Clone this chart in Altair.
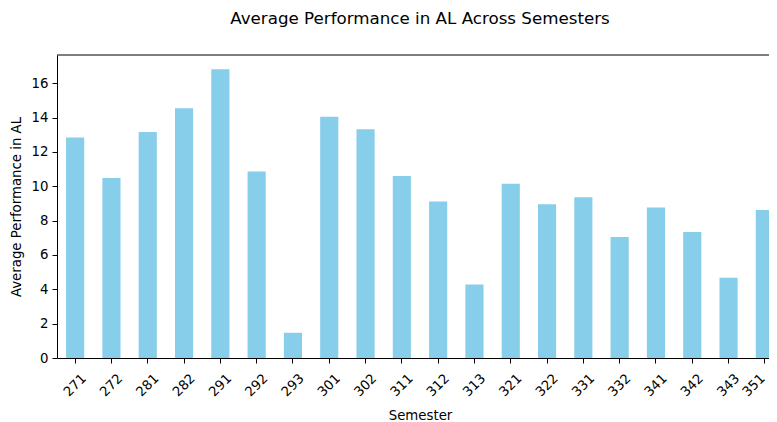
import altair as alt
import pandas as pd

semesters = ["271", "272", "281", "282", "291", "292", "293", "301", "302", "311",
             "312", "313", "321", "322", "331", "332", "341", "342", "343", "351"]
values = [12.84, 10.48, 13.16, 14.55, 16.82, 10.87, 1.47, 14.05, 13.33, 10.60,
          9.12, 4.28, 10.15, 8.95, 9.36, 7.05, 8.76, 7.34, 4.68, 8.62]
y_ticks = [0, 2, 4, 6, 8, 10, 12, 14, 16]

df = pd.DataFrame({"Semester": semesters, "value": values})

FONT = "DejaVu Sans"
W_FULL = 726   # full band range of the x axis (extends past the page edge)
W_VIS = 712    # visible plot width inside the page
H = 303

bars = alt.Chart(df).mark_bar(color="#87CEEB").encode(
    x=alt.X(
        "Semester:N",
        sort=semesters,
        scale=alt.Scale(paddingInner=0.5, paddingOuter=0.25, range=[0, W_FULL]),
        axis=alt.Axis(
            title="Semester",
            labelAngle=-45,
            labelAlign="center",
            labelBaseline="middle",
            labelPadding=22,
            labelOffset={"condition": {"test": "datum.value === '351'", "value": -11}, "value": 0},
            tickSize=5,
            titlePadding=10,
        ),
    ),
    y=alt.Y(
        "value:Q",
        scale=alt.Scale(domain=[0, 17.65], nice=False, zero=True),
        axis=alt.Axis(
            title="Average Performance in AL",
            values=y_ticks,
            tickSize=5,
            labelPadding=4,
            titlePadding=8,
            grid=False,
        ),
    ),
)

frame = pd.DataFrame({"a": [0]})
top = alt.Chart(frame).mark_rule(color="black", strokeWidth=1).encode(
    x=alt.value(0), x2=alt.value(W_FULL), y=alt.value(0)
)

chart = alt.layer(bars, top).properties(
    width=W_VIS,
    height=H,
    autosize=alt.AutoSizeParams(type="none"),
    padding={"left": 49, "top": 47, "right": 0, "bottom": 70},
    title=alt.Title(
        "Average Performance in AL Across Semesters",
        fontSize=16.7,
        font=FONT,
        fontWeight="normal",
        color="black",
        offset=27,
        frame="group",
        anchor="middle",
        dx=(W_FULL - W_VIS) / 2,
    ),
).configure_view(stroke=None).configure_axis(
    labelFont=FONT,
    titleFont=FONT,
    labelFontSize=13.3,
    titleFontSize=13.3,
    titleFontWeight="normal",
    labelColor="black",
    titleColor="black",
    domainColor="black",
    tickColor="black",
    domainWidth=1,
    tickWidth=1,
)

chart.save("out.html", embed_options={"renderer": "svg", "actions": False})
